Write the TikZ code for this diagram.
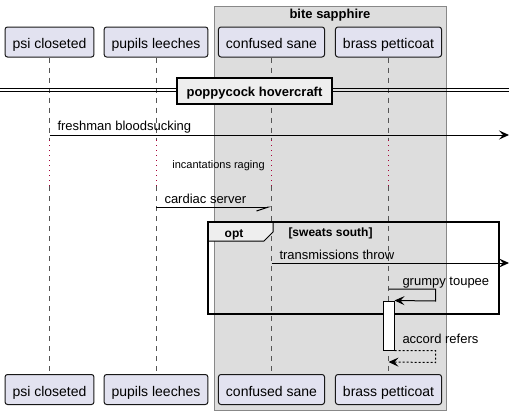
\documentclass[tikz,border=0pt]{standalone}
\usepackage{fontspec}
\setmainfont{Liberation Sans}
\usetikzlibrary{arrows.meta}

\definecolor{partfill}{HTML}{E2E2F0}
\definecolor{partline}{HTML}{181818}
\definecolor{groupfill}{HTML}{DDDDDD}
\definecolor{groupline}{HTML}{888888}
\definecolor{lifegray}{HTML}{555555}
\definecolor{delayred}{HTML}{A80036}
\definecolor{tabfill}{HTML}{EEEEEE}

\tikzset{
    party/.style={draw=partline, fill=partfill, rounded corners=2.5pt,
        minimum height=30pt, inner xsep=7.5pt, inner ysep=0pt,
        text height=13pt, text depth=0pt, font=\fontsize{14}{16}\selectfont},
    lifeline/.style={lifegray, line width=0.5pt, dash pattern=on 5pt off 5pt},
    delayline/.style={delayred, line width=0.7pt, dash pattern=on 1pt off 4pt},
    msgtip/.style={-{Stealth[length=10pt,width=9pt,inset=4pt]}},
    msglabel/.style={anchor=base west, inner sep=0pt, font=\fontsize{13}{15}\selectfont},
    boldlabel/.style={inner sep=0pt, font=\bfseries\fontsize{12}{14}\selectfont},
}

\begin{document}
\begin{tikzpicture}[x=1pt, y=-1pt, line width=1pt]
    \useasboundingbox (0,0) rectangle (514,415);

    % Group box
    \draw[draw=groupline, fill=groupfill] (214,6) rectangle (446,410);
    \node[boldlabel, anchor=base, font=\bfseries\fontsize{13}{15}\selectfont] (grp) at (330,18.5) {bite sapphire};

    % Participants
    \node[party] (psiT) at (49.5,42)  {psi closeted};
    \node[party] (pupT) at (156,42)   {pupils leeches};
    \node[party] (conT) at (271.5,42) {confused sane};
    \node[party] (braT) at (388.5,42) {brass petticoat};

    \node[party] (psiB) at (49.5,389.5)  {psi closeted};
    \node[party] (pupB) at (156,389.5)   {pupils leeches};
    \node[party] (conB) at (271.5,389.5) {confused sane};
    \node[party] (braB) at (388.5,389.5) {brass petticoat};

    % Rows
    \coordinate (delayA) at (0,140);
    \coordinate (delayB) at (0,186);
    \coordinate (r1) at (0,135);
    \coordinate (r2) at (0,207);
    \coordinate (r3) at (0,263);
    \coordinate (r4) at (0,289);
    \coordinate (r5) at (0,362);
    \coordinate (edge1) at (509,135);
    \coordinate (edge3) at (509,263);

    % Lifelines
    \foreach \p in {psi,pup,con,bra}{
        \draw[lifeline]  (\p T.south) -- (\p T.south |- delayA);
        \draw[delayline] (\p T.south |- delayA) -- (\p T.south |- delayB);
        \draw[lifeline]  (\p T.south |- delayB) -- (\p B.north);
    }

    % Divider
    \coordinate (divL) at (0,90);
    \coordinate (divR) at (509,90);
    \draw ([yshift=1.5pt]divL) -- ([yshift=1.5pt]divR);
    \draw ([yshift=-1.5pt]divL) -- ([yshift=-1.5pt]divR);
    \node[draw, line width=1.8pt, fill=tabfill, minimum width=155pt, minimum height=26pt,
        inner sep=0pt, text height=10pt, text depth=0pt,
        font=\bfseries\fontsize{13}{15}\selectfont] (sep) at (254.5,91) {poppycock hovercraft};

    % Messages
    \draw[msgtip] (psiT.south |- r1) -- (edge1);
    \node[msglabel] (lfresh) at (57,130.5) {freshman bloodsucking};

    \node[anchor=base, inner sep=0pt, font=\fontsize{11}{13}\selectfont] (ldelay) at (218.5,168.5) {incantations raging};

    \draw[-{Straight Barb[right,length=12pt,width=8pt]}] (pupT.south |- r2) -- (conT.south |- r2);
    \node[msglabel] (lcard) at (164,203) {cardiac server};

    % opt frame
    \coordinate (optNW) at (208,222);
    \coordinate (optSE) at (499,314);
    \draw[fill=tabfill] (optNW) -- (273,222) -- (273,232) -- (264,241) -- (208,241) -- cycle;
    \draw[line width=1.6pt] (optNW) rectangle (optSE);
    \node[boldlabel, anchor=base] (lopt) at (234,237) {opt};
    \node[boldlabel, anchor=base west] (lguard) at (288,236) {[sweats south]};

    \draw[msgtip] (conT.south |- r3) -- (edge3);
    \node[msglabel] (ltrans) at (279,259) {transmissions throw};

    % Activation
    \node[draw, fill=white, minimum width=11pt, minimum height=49pt, inner sep=0pt] (act) at (388.5,325.5) {};

    \draw[msgtip] (braT.south |- r4) -- ++(47,0) -- ++(0,12) -- (act.north east);
    \node[msglabel] (lgrump) at (402,285) {grumpy toupee};

    \draw[msgtip, dash pattern=on 2pt off 2pt] (act.south east) -- ++(41,0) -- ++(0,12) -- (braT.south |- r5);
    \node[msglabel] (laccord) at (402,343) {accord refers};
\end{tikzpicture}
\end{document}
